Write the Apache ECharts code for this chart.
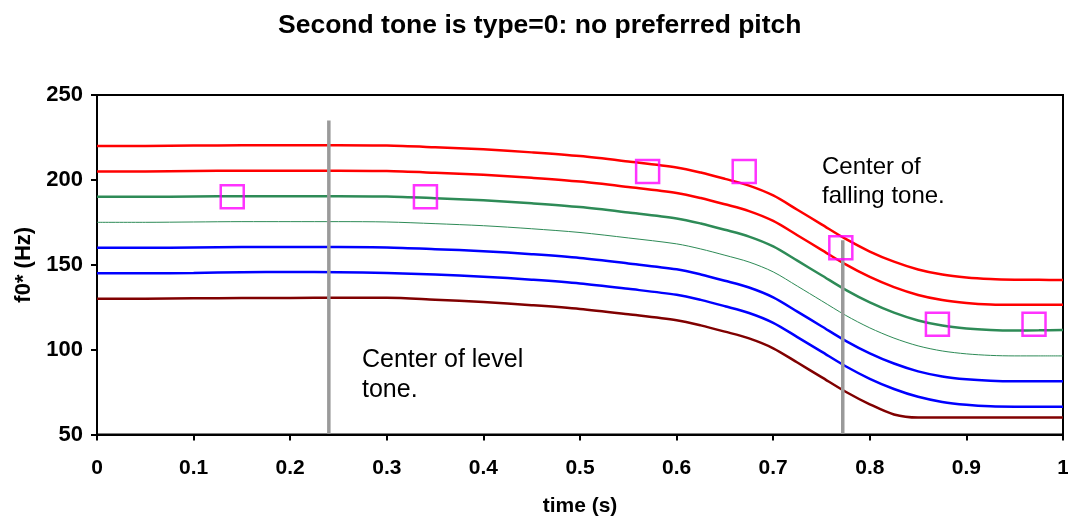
<!DOCTYPE html>
<html>
<head>
<meta charset="utf-8">
<title>Second tone is type=0: no preferred pitch</title>
<script src="https://cdn.jsdelivr.net/npm/echarts@6/dist/echarts.min.js"></script>
<style>
  html, body { margin: 0; padding: 0; background: #ffffff; overflow: hidden; }
  #chart { width: 1068px; height: 517px; }
</style>
</head>
<body>
<div id="chart"></div>
<script>
// Sample times (s) shared by all pitch contours
const times = [0, 0.05, 0.1, 0.15, 0.2, 0.25, 0.3, 0.35, 0.4, 0.45, 0.5, 0.55, 0.6,
  0.625, 0.65, 0.675, 0.7, 0.725, 0.75, 0.775, 0.8, 0.825, 0.85, 0.875, 0.9, 0.925, 0.95, 0.975, 1];

// f0 contours (Hz), top to bottom
const red1   = [220, 220, 220.2, 220.4, 220.4, 220.4, 220.2, 219.2, 218, 216.2, 214, 210.8, 207.3,
  204.3, 200.6, 196.6, 190.8, 182.4, 173.8, 165.2, 157.8, 151.8, 147.2, 144.2, 142.5, 141.6, 141.2, 141.1, 141];
const red2   = [205, 205, 205.2, 205.4, 205.4, 205.4, 205.2, 204.2, 203, 201.2, 199, 195.8, 192.3,
  189.3, 185.6, 181.6, 175.8, 167.4, 158.8, 150.2, 142.8, 136.8, 132.2, 129.2, 127.5, 126.6, 126.4, 126.4, 126.4];
const green1 = [190, 190, 190.2, 190.4, 190.4, 190.4, 190.2, 189.2, 188, 186.2, 184, 180.8, 177.3,
  174.3, 170.6, 166.6, 160.8, 152.4, 143.8, 135.2, 127.8, 121.8, 117.2, 114.2, 112.5, 111.6, 111.3, 111.4, 111.6];
const green2 = [175, 175, 175.2, 175.4, 175.4, 175.4, 175.2, 174.2, 173, 171.2, 169, 165.8, 162.3,
  159.3, 155.6, 151.6, 145.8, 137.4, 128.8, 120.2, 112.8, 106.8, 102.2, 99.2, 97.5, 96.6, 96.3, 96.3, 96.3];
const blue1  = [160, 160, 160.2, 160.4, 160.4, 160.4, 160.2, 159.2, 158, 156.2, 154, 150.8, 147.3,
  144.3, 140.6, 136.6, 130.8, 122.4, 113.8, 105.2, 97.8, 91.8, 87.2, 84.2, 82.5, 81.6, 81.3, 81.3, 81.3];
const blue2  = [145, 145, 145.2, 145.6, 145.8, 145.6, 145.2, 144.2, 143, 141.2, 139, 135.8, 132.3,
  129.3, 125.6, 121.6, 115.8, 107.4, 98.8, 90.2, 82.8, 76.8, 72.2, 69.2, 67.5, 66.6, 66.4, 66.4, 66.4];
const brown  = [130, 130, 130.2, 130.4, 130.4, 130.6, 130.6, 129.4, 128, 126.2, 124, 120.8, 117.3,
  114.3, 110.6, 106.6, 100.8, 92.4, 83.8, 75.2, 67.8, 61.8, 60, 60, 60, 60, 60, 60, 60];

// Target pitch markers: time (s) and f0 (Hz)
const targetTimes = [0.14, 0.34, 0.57, 0.67, 0.77, 0.87, 0.97];
const targetF0    = [190, 190, 205, 205, 160, 115, 115];

// Tone-centre reference lines: time (s) and [bottom, top] f0 (Hz)
const levelCenter = 0.24, levelSpan = [50.5, 235];
const fallCenter = 0.772, fallSpan = [50.5, 164.5];

// Axis ticks
const xTicks = { min: 0, max: 1, interval: 0.1 };
const yTicks = { min: 50, max: 250, interval: 50 };

const pair = (xs, ys) => xs.map((x, i) => [x, ys[i]]);

const contour = (values, color, width) => ({
  type: 'line',
  data: pair(times, values),
  smooth: 0.3,
  showSymbol: false,
  silent: true,
  lineStyle: { color: color, width: width },
  z: 2
});

const centerLine = (t, span) => ({
  type: 'line',
  data: [[t, span[0]], [t, span[1]]],
  showSymbol: false,
  silent: true,
  lineStyle: { color: '#9a9a9a', width: 3.5 },
  z: 3
});

const FONT = '"Liberation Sans", Arial, Helvetica, sans-serif';

const chart = echarts.init(document.getElementById('chart'), null, { renderer: 'canvas' });

chart.setOption({
  backgroundColor: '#ffffff',
  animation: false,
  title: {
    text: 'Second tone is type=0: no preferred pitch',
    left: 273,
    top: 7,
    textStyle: { fontFamily: FONT, fontSize: 26.5, fontWeight: 'bold', color: '#000' }
  },
  grid: {
    left: 97, right: 5, top: 95, bottom: 82.5,
    outerBoundsMode: 'none',
    containLabel: false,
    show: true,
    borderColor: '#000',
    borderWidth: 2,
    backgroundColor: '#ffffff'
  },
  xAxis: {
    type: 'value',
    min: xTicks.min, max: xTicks.max, interval: xTicks.interval,
    name: 'time (s)',
    nameLocation: 'middle',
    nameGap: 61,
    nameTextStyle: { fontFamily: FONT, fontSize: 21, fontWeight: 'bold', color: '#000' },
    axisLine: { show: true, lineStyle: { color: '#000', width: 2 } },
    axisTick: { show: true, inside: false, length: 6, lineStyle: { color: '#000', width: 2 } },
    axisLabel: {
      fontFamily: FONT, fontSize: 21, fontWeight: 'bold', color: '#000', margin: 23,
      hideOverlap: false,
      formatter: v => String(Math.round(v * 10) / 10)
    },
    splitLine: { show: false }
  },
  yAxis: {
    type: 'value',
    min: yTicks.min, max: yTicks.max, interval: yTicks.interval,
    name: 'f0* (Hz)',
    nameLocation: 'middle',
    nameGap: 60,
    nameRotate: 90,
    nameTextStyle: { fontFamily: FONT, fontSize: 22, fontWeight: 'bold', color: '#000' },
    axisLine: { show: true, lineStyle: { color: '#000', width: 2 } },
    axisTick: { show: true, inside: false, length: 6, lineStyle: { color: '#000', width: 2 } },
    axisLabel: { fontFamily: FONT, fontSize: 22, fontWeight: 'bold', color: '#000', margin: 14 },
    splitLine: { show: false }
  },
  graphic: [
    {
      type: 'text', left: 362, top: 345, silent: true,
      style: { text: 'Center of level\ntone.', fill: '#000', font: '25px ' + FONT, lineHeight: 30 }
    },
    {
      type: 'text', left: 822, top: 153, silent: true,
      style: { text: 'Center of\nfalling tone.', fill: '#000', font: '24px ' + FONT, lineHeight: 29 }
    }
  ],
  series: [
    contour(red1, '#ff0000', 2.5),
    contour(red2, '#ff0000', 2.5),
    contour(green1, '#2e8b57', 2.5),
    contour(green2, '#2e8b57', 1),
    contour(blue1, '#0000ff', 2.5),
    contour(blue2, '#0000ff', 2.5),
    contour(brown, '#800000', 2.5),
    centerLine(levelCenter, levelSpan),
    centerLine(fallCenter, fallSpan),
    {
      type: 'scatter',
      data: pair(targetTimes, targetF0),
      symbol: 'rect',
      symbolSize: 23,
      silent: true,
      itemStyle: { color: 'rgba(0,0,0,0)', borderColor: '#ff00ff', borderWidth: 2.5 },
      z: 4
    }
  ]
});
</script>
</body>
</html>
